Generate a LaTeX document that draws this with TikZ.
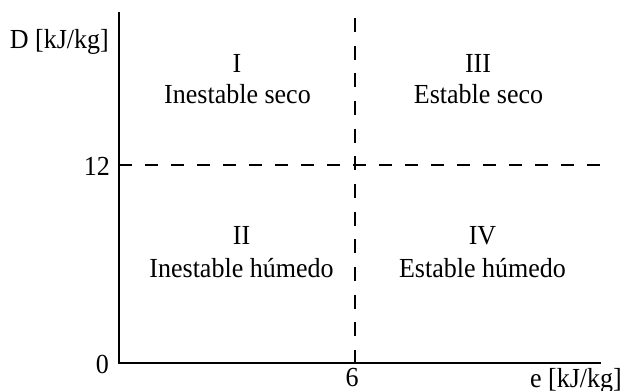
\documentclass[tikz,border=0pt]{standalone}
\usepackage{fontspec}
\setmainfont{Liberation Serif}
\begin{document}
\begin{tikzpicture}[x=1pt,y=-1pt,
  lbl/.style={font=\fontsize{26}{31}\selectfont, inner sep=0pt, yscale=1.06, transform shape},
  axis/.style={line width=2.8pt},
  dsh/.style={line width=2.8pt}]
\useasboundingbox (0,0) rectangle (624,391);
% axes
\coordinate (top) at (119,12);
\coordinate (org) at (119,363);
\coordinate (xend) at (601,363);
\draw[axis] (top) -- (org) -- (xend);
% dashed lines
\coordinate (hl) at (119,165);
\coordinate (hr) at (602,165);
\coordinate (vt) at (355,18);
\coordinate (vb) at (355,363);
\draw[dsh, dash pattern=on 13pt off 13pt] (hl) -- (hr);
\draw[dsh, dash pattern=on 14pt off 13.67pt] (vt) -- (vb);
% axis labels
\node[lbl, anchor=base east] (dlab) at (109,48) {D [kJ/kg]};
\node[lbl, anchor=base east] (twelve) at (110,175) {12};
\node[lbl, anchor=base east] (zero) at (109,373) {0};
\node[lbl, anchor=base] (six) at (352,386) {6};
\node[lbl, anchor=base east] (elab) at (622,387) {e [kJ/kg]};
% regions
\node[lbl, anchor=base] (r1) at (237,72) {I};
\node[lbl, anchor=base] (r1t) at (237.5,103) {Inestable seco};
\node[lbl, anchor=base] (r3) at (478,72) {III};
\node[lbl, anchor=base] (r3t) at (478.5,103) {Estable seco};
\node[lbl, anchor=base] (r2) at (241.5,244) {II};
\node[lbl, anchor=base] (r2t) at (241.5,277) {Inestable húmedo};
\node[lbl, anchor=base] (r4) at (482.5,244) {IV};
\node[lbl, anchor=base] (r4t) at (482.5,277) {Estable húmedo};
\end{tikzpicture}
\end{document}
